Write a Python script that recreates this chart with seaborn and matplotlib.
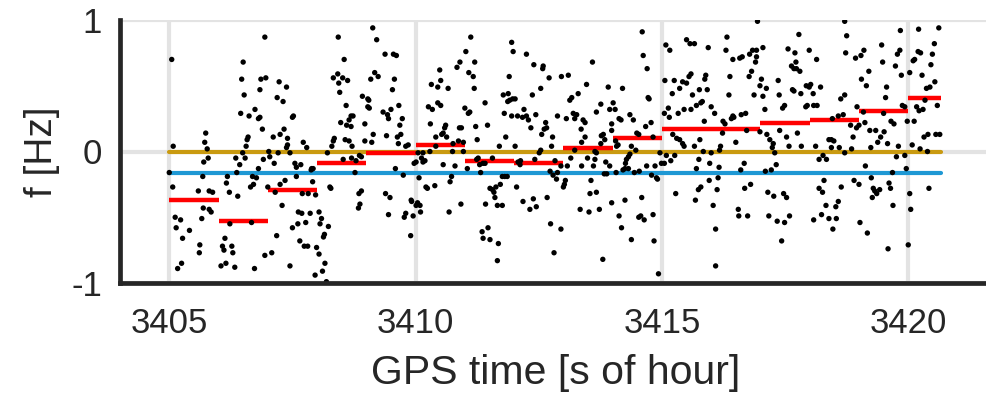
import matplotlib
matplotlib.use("Agg")
import matplotlib.pyplot as plt
import seaborn as sns
import pandas as pd

# ---- data ----
# black dots: (GPS time [s], f [Hz])
dots_a = [
    (3405.05, 0.70), (3406.94, 0.87), (3406.50, 0.68), (3406.47, 0.55), (3406.86, 0.55),
    (3406.96, 0.56), (3406.84, 0.47), (3406.52, 0.43), (3406.74, 0.32), (3406.45, 0.29),
    (3406.62, 0.27), (3406.81, 0.25), (3406.84, 0.26), (3406.89, 0.17), (3405.74, 0.14),
    (3406.60, 0.11), (3406.58, 0.09), (3405.72, 0.07), (3405.08, 0.04), (3406.56, 0.04),
    (3405.77, 0.02), (3406.49, -0.01), (3406.35, -0.05), (3406.54, -0.05), (3405.79, -0.05),
    (3405.70, -0.08), (3406.43, -0.10), (3406.91, -0.06), (3406.81, -0.13), (3405.00, -0.16),
    (3406.37, -0.16), (3405.68, -0.19), (3406.18, -0.19), (3406.69, -0.19), (3406.77, -0.20),
    (3406.16, -0.24), (3406.71, -0.25), (3406.65, -0.27), (3405.07, -0.27), (3405.59, -0.30),
    (3405.81, -0.30), (3405.88, -0.31), (3406.22, -0.31), (3406.39, -0.34), (3405.69, -0.43),
    (3405.81, -0.44), (3405.85, -0.46), (3405.12, -0.50), (3405.23, -0.52), (3405.66, -0.51),
    (3406.23, -0.55), (3406.67, -0.54), (3405.14, -0.58), (3405.41, -0.60), (3405.27, -0.66),
    (3406.13, -0.66), (3405.62, -0.71), (3406.08, -0.72), (3406.11, -0.75), (3406.27, -0.72),
    (3405.61, -0.77), (3406.29, -0.77), (3406.94, -0.79), (3405.25, -0.85), (3406.15, -0.85),
    (3406.05, -0.87), (3405.17, -0.89), (3406.33, -0.88), (3406.73, -0.89),
]
dots_b = [
    (3408.43, 0.87), (3409.13, 0.94), (3409.21, 0.85), (3408.55, 0.70), (3409.38, 0.74),
    (3409.55, 0.74), (3409.61, 0.73), (3407.23, 0.53), (3407.38, 0.49), (3408.33, 0.56),
    (3408.42, 0.59), (3408.52, 0.56), (3408.44, 0.52), (3408.62, 0.54), (3408.46, 0.45),
    (3409.17, 0.60), (3409.24, 0.57), (3409.09, 0.55), (3409.57, 0.55), (3409.53, 0.47),
    (3407.19, 0.41), (3407.31, 0.38), (3408.59, 0.35), (3408.92, 0.42), (3409.03, 0.40),
    (3409.05, 0.39), (3409.03, 0.34), (3409.06, 0.33), (3409.66, 0.35), (3407.52, 0.27),
    (3407.50, 0.26), (3409.34, 0.30), (3409.43, 0.28), (3409.45, 0.25), (3409.50, 0.32),
    (3409.73, 0.25), (3408.69, 0.27), (3408.73, 0.27), (3408.65, 0.24), (3408.48, 0.22),
    (3408.60, 0.20), (3408.69, 0.19), (3408.97, 0.21), (3409.68, 0.20), (3407.33, 0.17),
    (3407.25, 0.13), (3407.40, 0.10), (3407.11, 0.11), (3408.35, 0.10), (3408.33, 0.08),
    (3408.57, 0.09), (3408.65, 0.08), (3408.97, 0.08), (3409.11, 0.07), (3409.14, 0.13),
    (3409.41, 0.12), (3409.63, 0.11), (3409.70, 0.13), (3407.72, 0.07), (3407.79, 0.03),
    (3408.30, 0.04), (3408.71, 0.04), (3407.40, 0.05), (3407.38, 0.03), (3407.02, 0.00),
    (3407.45, -0.01), (3407.21, -0.01), (3408.21, -0.01), (3409.65, 0.06), (3409.80, 0.04),
    (3409.85, 0.05), (3407.04, -0.04), (3408.70, -0.05), (3408.79, -0.07), (3408.90, -0.04),
    (3408.86, -0.03), (3408.53, -0.06), (3407.13, -0.09), (3407.55, -0.09), (3407.67, -0.10),
    (3407.58, -0.12), (3407.89, -0.13), (3407.88, -0.14), (3407.92, -0.13), (3408.77, -0.16),
    (3409.59, -0.13), (3409.75, -0.18), (3407.58, -0.19), (3407.91, -0.23), (3407.00, -0.27),
    (3407.25, -0.25), (3407.35, -0.22), (3407.15, -0.31), (3407.70, -0.32), (3407.82, -0.32),
    (3407.97, -0.33), (3408.26, -0.27), (3408.28, -0.28), (3408.90, -0.30), (3408.85, -0.32),
    (3409.39, -0.32), (3409.48, -0.35), (3409.91, -0.37), (3407.29, -0.41), (3408.87, -0.40),
    (3408.84, -0.43), (3407.62, -0.46), (3407.69, -0.47), (3407.86, -0.47), (3408.04, -0.46),
    (3408.09, -0.51), (3409.45, -0.48), (3409.80, -0.47), (3409.77, -0.50), (3407.61, -0.55),
    (3407.77, -0.54), (3408.06, -0.55), (3407.50, -0.58), (3408.23, -0.57), (3408.15, -0.63),
    (3408.13, -0.65), (3407.18, -0.64), (3409.90, -0.64), (3407.65, -0.68), (3407.74, -0.72),
    (3407.81, -0.72), (3407.99, -0.73), (3407.08, -0.77), (3408.04, -0.78), (3408.16, -0.85),
    (3407.45, -0.87), (3408.11, -0.91), (3407.96, -0.94), (3408.19, -0.99),
]
dots_c = [
    (3411.12, 0.87), (3411.95, 0.83), (3411.98, 0.76), (3411.02, 0.76), (3412.25, 0.74),
    (3410.90, 0.68), (3410.84, 0.64), (3411.20, 0.68), (3411.08, 0.60), (3411.17, 0.57),
    (3412.40, 0.66), (3412.59, 0.65), (3412.58, 0.63), (3410.49, 0.62), (3412.71, 0.56),
    (3411.90, 0.57), (3410.32, 0.51), (3410.51, 0.54), (3410.45, 0.49), (3410.66, 0.48),
    (3411.19, 0.48), (3412.54, 0.48), (3411.78, 0.43), (3411.88, 0.44), (3412.37, 0.43),
    (3411.87, 0.38), (3411.91, 0.39), (3411.97, 0.40), (3412.02, 0.40), (3411.41, 0.37),
    (3410.45, 0.37), (3410.51, 0.35), (3410.26, 0.34), (3410.34, 0.32), (3411.00, 0.33),
    (3411.10, 0.30), (3411.07, 0.29), (3412.20, 0.32), (3411.80, 0.29), (3411.95, 0.27),
    (3412.07, 0.27), (3412.17, 0.26), (3412.25, 0.27), (3412.29, 0.24), (3412.44, 0.28),
    (3410.30, 0.21), (3410.61, 0.20), (3410.59, 0.18), (3411.46, 0.20), (3410.89, 0.18),
    (3410.93, 0.18), (3411.22, 0.19), (3412.34, 0.18), (3412.64, 0.22), (3412.61, 0.17),
    (3412.66, 0.18), (3410.56, 0.14), (3410.53, 0.13), (3410.41, 0.11), (3410.63, 0.11),
    (3411.83, 0.11), (3412.56, 0.13), (3412.78, 0.11), (3410.87, 0.08), (3410.76, 0.06),
    (3410.97, 0.07), (3411.25, 0.09), (3410.41, 0.04), (3411.70, 0.04), (3412.02, 0.04),
    (3412.76, 0.04), (3410.05, -0.01), (3410.15, -0.01), (3410.29, 0.00), (3410.97, 0.00),
    (3410.75, 0.00), (3412.54, 0.01), (3412.51, -0.01), (3410.12, -0.05), (3410.19, -0.07),
    (3410.15, -0.08), (3411.27, -0.05), (3411.24, -0.06), (3411.37, -0.09), (3411.30, -0.10),
    (3411.41, -0.09), (3411.56, -0.05), (3409.97, -0.09), (3410.01, -0.08), (3410.56, -0.10),
    (3410.80, -0.11), (3412.42, -0.06), (3412.08, -0.08), (3412.13, -0.07), (3412.12, -0.10),
    (3411.05, -0.13), (3411.32, -0.16), (3412.73, -0.15), (3412.79, -0.18), (3410.07, -0.20),
    (3410.73, -0.19), (3410.70, -0.23), (3411.76, -0.19), (3411.81, -0.19), (3411.86, -0.19),
    (3412.05, -0.27), (3410.21, -0.27), (3410.24, -0.28), (3410.39, -0.26), (3411.51, -0.28),
    (3411.63, -0.27), (3411.72, -0.25), (3411.59, -0.31), (3411.56, -0.29), (3411.61, -0.35),
    (3411.66, -0.41), (3411.76, -0.41), (3409.92, -0.38), (3410.04, -0.39), (3410.09, -0.41),
    (3410.01, -0.41), (3410.92, -0.40), (3411.42, -0.40), (3412.18, -0.38), (3412.39, -0.36),
    (3412.32, -0.44), (3412.45, -0.42), (3412.67, -0.35), (3409.95, -0.49), (3410.10, -0.46),
    (3410.68, -0.46), (3412.74, -0.55), (3411.35, -0.61), (3411.47, -0.58), (3411.37, -0.66),
    (3411.51, -0.67), (3411.68, -0.70), (3412.81, -0.77), (3411.66, -0.83),
]
dots_d = [
    (3414.60, 0.91), (3414.62, 0.73), (3414.70, 0.63), (3413.59, 0.68), (3412.96, 0.57),
    (3413.10, 0.58), (3413.47, 0.51), (3413.91, 0.49), (3414.20, 0.48), (3413.30, 0.44),
    (3413.17, 0.41), (3413.13, 0.39), (3414.72, 0.41), (3414.74, 0.40), (3413.76, 0.36),
    (3414.01, 0.37), (3413.94, 0.32), (3414.05, 0.32), (3413.20, 0.29), (3413.27, 0.28),
    (3413.23, 0.25), (3413.67, 0.30), (3412.88, 0.27), (3413.06, 0.25), (3414.13, 0.25),
    (3414.17, 0.24), (3414.35, 0.28), (3414.42, 0.24), (3413.40, 0.24), (3413.44, 0.22),
    (3413.98, 0.21), (3414.78, 0.22), (3414.67, 0.19), (3413.36, 0.17), (3413.98, 0.16),
    (3414.49, 0.14), (3414.53, 0.13), (3413.81, 0.13), (3413.77, 0.12), (3413.84, 0.09),
    (3413.44, 0.11), (3414.82, 0.11), (3414.06, 0.08), (3413.37, 0.07), (3414.11, 0.05),
    (3414.08, 0.04), (3414.38, 0.04), (3413.76, 0.06), (3413.64, 0.00), (3413.67, -0.01),
    (3413.23, 0.01), (3414.47, 0.01), (3414.35, -0.02), (3414.32, -0.04), (3414.28, -0.06),
    (3413.15, -0.05), (3414.96, -0.01), (3413.49, -0.05), (3413.64, -0.06), (3412.83, -0.07),
    (3413.86, -0.08), (3414.26, -0.09), (3412.95, -0.11), (3413.08, -0.11), (3413.37, -0.11),
    (3413.61, -0.11), (3413.94, -0.11), (3414.25, -0.13), (3414.21, -0.14), (3414.32, -0.13),
    (3414.69, -0.11), (3414.86, -0.11), (3414.99, -0.09), (3415.05, -0.09), (3412.88, -0.16),
    (3412.86, -0.21), (3413.83, -0.17), (3413.88, -0.17), (3414.07, -0.16), (3414.44, -0.16),
    (3414.54, -0.15), (3414.79, -0.18), (3414.89, -0.20), (3414.91, -0.21), (3413.04, -0.22),
    (3413.02, -0.25), (3413.00, -0.27), (3413.56, -0.22), (3413.54, -0.32), (3413.67, -0.31),
    (3414.59, -0.35), (3414.25, -0.37), (3413.98, -0.39), (3413.34, -0.44), (3413.52, -0.46),
    (3413.73, -0.44), (3414.13, -0.49), (3414.53, -0.50), (3414.57, -0.49), (3414.64, -0.52),
    (3414.82, -0.48), (3412.95, -0.59), (3414.18, -0.58), (3414.38, -0.67), (3414.84, -0.68),
    (3413.80, -0.82), (3414.93, -0.93),
    (3415.50, 0.85), (3415.57, 0.82), (3415.66, 0.82), (3415.08, 0.81), (3415.16, 0.77),
    (3415.06, 0.54), (3415.25, 0.54), (3415.42, 0.53), (3415.50, 0.52), (3415.59, 0.59),
    (3415.55, 0.57), (3415.36, 0.48), (3415.21, 0.44), (3415.62, 0.43), (3415.76, 0.47),
    (3415.13, 0.33), (3415.33, 0.29), (3415.45, 0.32), (3415.59, 0.32), (3415.70, 0.35),
    (3415.79, 0.37), (3415.05, 0.29), (3415.15, 0.26), (3415.22, 0.13), (3415.30, 0.10),
    (3415.36, 0.09), (3415.42, 0.06), (3415.45, 0.04), (3415.66, 0.04), (3415.77, 0.09),
    (3415.09, -0.03), (3415.18, -0.07), (3415.26, -0.03), (3415.70, -0.13), (3415.75, -0.06),
    (3415.74, -0.29), (3415.79, -0.27), (3415.28, -0.32), (3415.68, -0.37),
]
dots_e = [
    (3416.94, 0.99), (3418.71, 0.99), (3417.78, 0.89), (3416.32, 0.87), (3415.94, 0.79),
    (3416.30, 0.77), (3416.44, 0.70), (3416.58, 0.71), (3416.63, 0.72), (3416.78, 0.74),
    (3416.84, 0.77), (3416.92, 0.77), (3416.92, 0.72), (3416.90, 0.68), (3417.05, 0.79),
    (3417.56, 0.78), (3417.70, 0.75), (3417.72, 0.68), (3417.99, 0.77), (3418.14, 0.70),
    (3418.73, 0.75), (3416.82, 0.61), (3416.77, 0.57), (3417.63, 0.65), (3417.68, 0.63),
    (3417.73, 0.63), (3417.80, 0.61), (3415.89, 0.58), (3415.87, 0.55), (3416.38, 0.57),
    (3417.02, 0.55), (3416.99, 0.50), (3417.12, 0.48), (3417.36, 0.54), (3415.92, 0.47),
    (3417.65, 0.47), (3417.68, 0.46), (3417.93, 0.50), (3418.02, 0.51), (3417.99, 0.49),
    (3417.82, 0.44), (3418.07, 0.44), (3418.22, 0.49), (3417.38, 0.43), (3416.36, 0.43),
    (3416.87, 0.43), (3417.05, 0.42), (3415.82, 0.38), (3416.00, 0.34), (3416.07, 0.29),
    (3417.49, 0.35), (3417.45, 0.33), (3417.95, 0.35), (3417.92, 0.34), (3418.08, 0.35),
    (3418.15, 0.35), (3418.63, 0.40), (3418.71, 0.43), (3417.09, 0.32), (3416.44, 0.27),
    (3416.41, 0.25), (3416.46, 0.26), (3416.61, 0.28), (3416.70, 0.29), (3418.46, 0.25),
    (3418.58, 0.27), (3418.68, 0.28), (3415.86, 0.23), (3416.24, 0.23), (3416.28, 0.21),
    (3416.23, 0.14), (3416.72, 0.16), (3416.99, 0.15), (3417.13, 0.13), (3417.19, 0.09),
    (3417.26, 0.06), (3417.39, 0.16), (3417.53, 0.11), (3417.75, 0.14), (3418.39, 0.09),
    (3418.44, 0.09), (3418.49, 0.08), (3416.50, 0.07), (3416.19, 0.04), (3416.17, 0.01),
    (3417.58, 0.04), (3417.83, 0.04), (3418.12, 0.04), (3418.44, 0.03), (3418.60, 0.03),
    (3417.24, 0.03), (3417.29, -0.01), (3415.84, 0.00), (3416.00, -0.01), (3418.71, -0.01),
    (3418.19, -0.06), (3418.27, -0.03), (3418.34, -0.06), (3415.97, -0.09), (3416.16, -0.12),
    (3416.67, -0.09), (3417.32, -0.10), (3417.22, -0.14), (3417.10, -0.15), (3416.60, -0.14),
    (3416.14, -0.20), (3415.96, -0.22), (3416.80, -0.25), (3416.68, -0.28), (3416.12, -0.29),
    (3418.29, -0.22), (3418.19, -0.28), (3418.26, -0.31), (3418.64, -0.27), (3417.15, -0.31),
    (3417.27, -0.34), (3417.47, -0.32), (3417.53, -0.35), (3416.04, -0.41), (3416.55, -0.44),
    (3416.56, -0.49), (3416.74, -0.49), (3417.17, -0.49), (3417.34, -0.53), (3417.49, -0.54),
    (3417.59, -0.49), (3418.08, -0.52), (3418.24, -0.48), (3418.33, -0.41), (3418.39, -0.51),
    (3418.54, -0.51), (3418.58, -0.38), (3418.53, -0.42), (3418.47, -0.59), (3416.09, -0.59),
    (3417.43, -0.68), (3416.09, -0.87),
]
dots_f = [
    (3420.62, 0.94), (3420.21, 0.93), (3419.84, 0.92), (3418.75, 0.88), (3420.53, 0.82),
    (3419.46, 0.81), (3418.93, 0.71), (3419.04, 0.73), (3419.10, 0.77), (3419.83, 0.77),
    (3419.78, 0.74), (3420.20, 0.76), (3420.25, 0.75), (3420.49, 0.74), (3419.48, 0.68),
    (3420.13, 0.70), (3420.10, 0.69), (3419.74, 0.65), (3419.20, 0.61), (3419.86, 0.58),
    (3420.03, 0.60), (3420.46, 0.66), (3420.28, 0.58), (3419.05, 0.55), (3419.15, 0.50),
    (3420.54, 0.53), (3419.56, 0.49), (3420.37, 0.48), (3420.44, 0.49), (3419.54, 0.41),
    (3420.34, 0.39), (3420.59, 0.35), (3418.96, 0.34), (3419.88, 0.35), (3419.93, 0.34),
    (3420.17, 0.34), (3420.22, 0.31), (3420.30, 0.32), (3419.09, 0.30), (3419.50, 0.29),
    (3418.83, 0.20), (3418.95, 0.18), (3419.00, 0.20), (3419.12, 0.22), (3419.65, 0.23),
    (3419.71, 0.21), (3419.98, 0.23), (3420.12, 0.23), (3419.22, 0.16), (3419.34, 0.16),
    (3419.51, 0.15), (3419.44, 0.11), (3418.88, 0.11), (3419.38, 0.07), (3419.58, 0.06),
    (3420.32, 0.11), (3420.40, 0.13), (3420.56, 0.13), (3420.64, 0.13), (3419.80, 0.04),
    (3420.08, 0.05), (3419.24, 0.03), (3418.85, 0.02), (3420.24, 0.02), (3420.39, 0.00),
    (3419.76, -0.04), (3419.93, -0.03), (3419.96, -0.13), (3419.13, -0.11), (3419.68, -0.16),
    (3418.90, -0.22), (3419.00, -0.25), (3419.25, -0.20), (3419.61, -0.24), (3419.64, -0.28),
    (3420.42, -0.28), (3419.29, -0.28), (3419.32, -0.30), (3419.36, -0.32), (3419.42, -0.29),
    (3419.27, -0.35), (3420.03, -0.32), (3419.69, -0.41), (3420.05, -0.44), (3419.02, -0.54),
    (3419.17, -0.62), (3419.59, -0.74), (3420.00, -0.71),
]

# red: one mean per second
seg_start = [3405, 3406, 3407, 3408, 3409, 3410, 3411, 3412,
             3413, 3414, 3415, 3416, 3417, 3418, 3419, 3420]
seg_end = [3406, 3407, 3408, 3409, 3410, 3411, 3412, 3413,
           3414, 3415, 3416, 3417, 3418, 3419, 3420, 3420.67]
seg_mean = [-0.37, -0.53, -0.29, -0.09, -0.01, 0.05, -0.07, -0.09,
            0.03, 0.10, 0.17, 0.17, 0.22, 0.24, 0.31, 0.41]

# reference levels
span = [3405.0, 3420.67]
gold_level = 0.0
blue_level = -0.165

x_ticks = [3405, 3410, 3415, 3420]
y_ticks = [-1, 0, 1]

# ---- drawing ----
sns.set_theme(style="white")
plt.rcParams["font.family"] = ["Liberation Sans", "DejaVu Sans"]
plt.rcParams["axes.unicode_minus"] = False

dots = pd.DataFrame(dots_a + dots_b + dots_c + dots_d + dots_e + dots_f,
                    columns=["t", "f"])

W, H = 986, 396
fig = plt.figure(figsize=(W / 100, H / 100), dpi=100)
ax = fig.add_axes([120 / W, (H - 283) / H, 872 / W, 263 / H])

spine_col = "#262626"
grid_col = "#e3e3e3"

ax.set_xlim(3404, 3421.7)
ax.set_ylim(-1, 1)
ax.set_xticks(x_ticks)
ax.set_yticks(y_ticks)
ax.grid(True, color=grid_col, linewidth=3.0, zorder=0)
ax.set_axisbelow(True)

lines = pd.DataFrame({"t": span * 2,
                      "f": [gold_level] * 2 + [blue_level] * 2,
                      "kind": ["gold"] * 2 + ["blue"] * 2})
sns.lineplot(data=lines, x="t", y="f", hue="kind",
             palette={"gold": "#c99a10", "blue": "#1e98d4"},
             linewidth=3.0, legend=False, ax=ax, zorder=2, estimator=None)

ax.hlines(seg_mean, seg_start, seg_end, colors="#ff0000", linewidth=3.2, zorder=3)

sns.scatterplot(data=dots, x="t", y="f", color="black", s=15,
                edgecolor="none", ax=ax, zorder=4, clip_on=True)

for side in ["top", "right"]:
    ax.spines[side].set_visible(False)
for side in ["left", "bottom"]:
    ax.spines[side].set_color(spine_col)
    ax.spines[side].set_linewidth(3.4)
    ax.spines[side].set_zorder(5)

ax.tick_params(axis="both", direction="in", length=7, width=3.0,
               color=spine_col, labelcolor="#262626", labelsize=25)
ax.tick_params(axis="x", pad=17)
ax.tick_params(axis="y", pad=13)

ax.set_xlabel("GPS time [s of hour]", fontsize=29.5, color="#262626", labelpad=10)
ax.set_ylabel("f [Hz]", fontsize=28, color="#262626", labelpad=8)

fig.savefig("out.png", dpi=100)
